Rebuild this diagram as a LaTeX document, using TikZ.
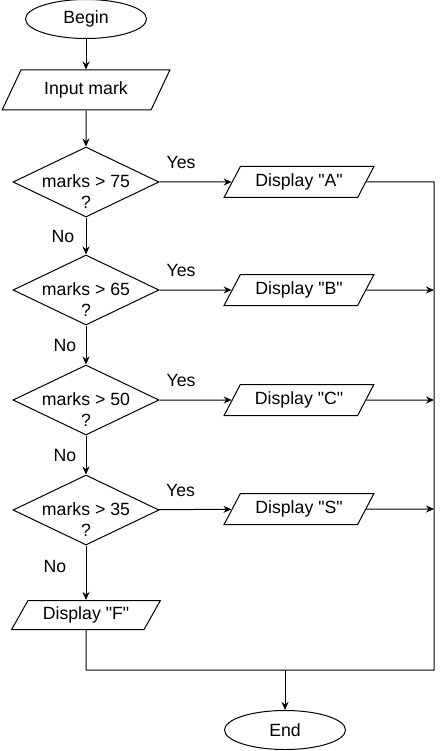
\documentclass[tikz,border=0pt]{standalone}
\usepackage{fontspec}
\setmainfont{Liberation Sans}
\usetikzlibrary{positioning}
\usetikzlibrary{shapes.geometric}
\usetikzlibrary{arrows.meta}

\begin{document}
\begin{tikzpicture}[x=1pt, y=1pt, node distance=110pt,
    font=\fontsize{17.7}{21}\selectfont,
    block/.style={draw, line width=1pt, inner sep=3pt},
    terminal/.style={block, ellipse, minimum width=121pt, minimum height=39pt},
    io/.style={block, trapezium, trapezium left angle=60, trapezium right angle=120, trapezium stretches=true, minimum width=150pt, minimum height=31pt},
    decision/.style={block, diamond, inner sep=0pt, minimum width=146pt, minimum height=70pt},
    question/.style={align=center, inner sep=0pt},
    arrow_exp/.style={-{Stealth[length=8pt, width=7pt]}, line width=1pt},
    line_exp/.style={line width=1pt},
]
\useasboundingbox (0,0) rectangle (443,-751);

\node[terminal] (start) at (86,-19) {Begin};
\node[io, below of=start, yshift=39pt, minimum width=168pt, minimum height=40pt] (input) {Input mark};

% the four tests
\node[decision, below of=input, yshift=18pt] (d75) {};
\node[decision, below of=d75, yshift=2pt] (d65) {};
\node[decision, below of=d65] (d50) {};
\node[decision, below of=d50] (d35) {};

\node[question] (q75) at ([yshift=-10pt]d75.center) {marks > 75\\?};
\node[question] (q65) at ([yshift=-10pt]d65.center) {marks > 65\\?};
\node[question] (q50) at ([yshift=-10pt]d50.center) {marks > 50\\?};
\node[question] (q35) at ([yshift=-10pt]d35.center) {marks > 35\\?};

\node[io, right of=d75, xshift=103pt] (dispA) {Display \textquotedbl A\textquotedbl};
\node[io, right of=d65, xshift=103pt] (dispB) {Display \textquotedbl B\textquotedbl};
\node[io, right of=d50, xshift=103pt] (dispC) {Display \textquotedbl C\textquotedbl};
\node[io, right of=d35, xshift=103pt, yshift=1pt] (dispS) {Display \textquotedbl S\textquotedbl};
\node[io, below of=d35, yshift=5pt, minimum width=149pt, minimum height=29pt] (dispF) {Display \textquotedbl F\textquotedbl};

\node[terminal, below of=dispF, xshift=199pt, yshift=-5pt] (finish) {End};

\draw[arrow_exp] (start) -- (input);
\draw[arrow_exp] (input) -- (d75);

\draw[arrow_exp] (d75) -- node[left, xshift=-8pt] (no75) {No} (d65);
\draw[arrow_exp] (d65) -- node[left, xshift=-6pt] (no65) {No} (d50);
\draw[arrow_exp] (d50) -- node[left, xshift=-6pt] (no50) {No} (d35);
\draw[arrow_exp] (d35) -- node[left, xshift=-16pt, yshift=6pt] (no35) {No} (dispF);

\draw[arrow_exp] (d75) -- node[above, pos=0.3, yshift=9pt] (yes75) {Yes} (dispA);
\draw[arrow_exp] (d65) -- node[above, pos=0.3, yshift=9pt] (yes65) {Yes} (dispB);
\draw[arrow_exp] (d50) -- node[above, pos=0.3, yshift=9pt] (yes50) {Yes} (dispC);
\draw[arrow_exp] (d35) -- node[above, pos=0.3, yshift=9pt] (yes35) {Yes} (dispS);

% collecting line on the right and at the bottom
\coordinate[right of=dispA, xshift=25pt] (right_of_dispA);
\coordinate[below of=dispF, yshift=55pt] (below_of_dispF);

\draw[line_exp] (dispA) -- (right_of_dispA) -- (right_of_dispA |- below_of_dispF) -- (below_of_dispF) -- (dispF);
\draw[arrow_exp] (dispB) -- (dispB -| right_of_dispA);
\draw[arrow_exp] (dispC) -- (dispC -| right_of_dispA);
\draw[arrow_exp] (dispS) -- (dispS -| right_of_dispA);
\draw[arrow_exp] (finish |- below_of_dispF) -- (finish);

\end{tikzpicture}
\end{document}
